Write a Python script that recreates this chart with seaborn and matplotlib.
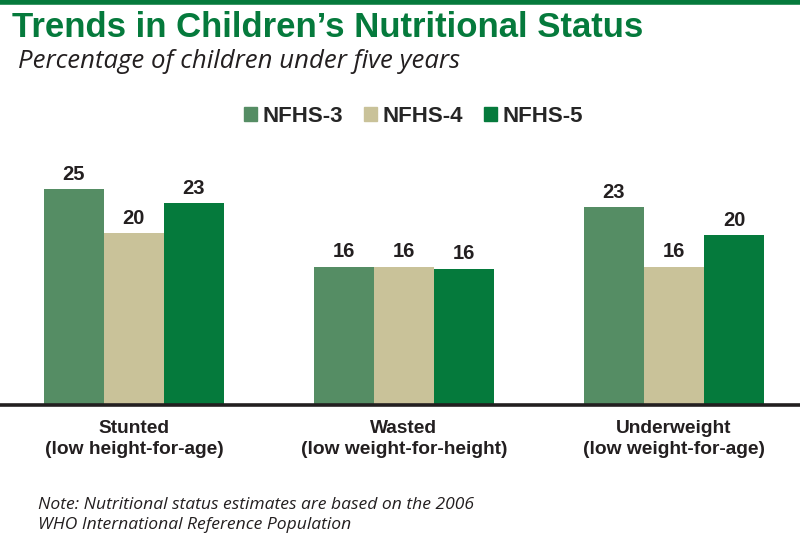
import matplotlib
matplotlib.use("Agg")
import matplotlib.pyplot as plt
import seaborn as sns
import pandas as pd
from matplotlib.patches import Rectangle
from matplotlib.lines import Line2D

categories = ["Stunted\n(low height-for-age)",
              "Wasted\n(low weight-for-height)",
              "Underweight\n(low weight-for-age)"]
surveys = ["NFHS-3", "NFHS-4", "NFHS-5"]
nfhs3 = [25.0, 16.0, 22.9]
nfhs4 = [19.9, 16.0, 16.0]
nfhs5 = [23.4, 15.8, 19.7]
colors = ["#558d64", "#c9c299", "#057a3c"]

rows = []
for s, vals in zip(surveys, [nfhs3, nfhs4, nfhs5]):
    for c, v in zip(categories, vals):
        rows.append({"category": c, "survey": s, "value": v})
df = pd.DataFrame(rows)

sns.set_theme(style="white")
plt.rcParams["font.family"] = ["Liberation Sans", "DejaVu Sans"]

fig = plt.figure(figsize=(8, 5.35), dpi=100)
ax = fig.add_axes([0, 0.243, 1, 0.495])

sns.barplot(data=df, x="category", y="value", hue="survey",
            hue_order=surveys, palette=colors, width=0.667,
            saturation=1, linewidth=0, ax=ax, legend=False)

ax.set_xlim(-0.496, 2.467)
ax.set_ylim(0, 30.7)
for side in ["top", "left", "right"]:
    ax.spines[side].set_visible(False)
ax.spines["bottom"].set_color("#231f20")
ax.spines["bottom"].set_linewidth(2.6)
ax.set_yticks([])
ax.set_xlabel("")
ax.set_ylabel("")
ax.tick_params(axis="x", length=0, pad=11)
for lbl in ax.get_xticklabels():
    lbl.set_fontweight("bold")
    lbl.set_fontsize(13.8)
    lbl.set_color("#231f20")
    lbl.set_linespacing(1.3)

for cont in ax.containers:
    ax.bar_label(cont, labels=[f"{v:.0f}" for v in cont.datavalues],
                 padding=4, fontsize=14.5, fontweight="bold", color="#231f20")

# top rule
fig.add_artist(Line2D([0, 1], [0.996, 0.996], color="#057a3c", lw=4,
                      transform=fig.transFigure))

fig.text(0.015, 0.98, "Trends in Children\u2019s Nutritional Status",
         fontsize=25, fontweight="bold", color="#057a3c", va="top")
fig.text(0.022, 0.909, "Percentage of children under five years",
         fontsize=18.5, style="italic", color="#231f20", va="top",
         family=["Open Sans", "DejaVu Sans"])

handles = [Rectangle((0, 0), 1, 1, color=c) for c in colors]
fig.legend(handles, surveys, loc="center", bbox_to_anchor=(0.517, 0.783),
           ncol=3, frameon=False, handlelength=0.57, handleheight=0.57,
           handletextpad=0.25, columnspacing=0.95,
           prop={"weight": "bold", "size": 16, "family": "Liberation Sans"})

fig.text(0.047, 0.037, "Note: Nutritional status estimates are based on the 2006\n"
         "WHO International Reference Population",
         fontsize=12.6, style="italic", color="#231f20", va="center",
         linespacing=1.35, family=["Open Sans", "DejaVu Sans"])

fig.savefig("out.png", dpi=100)
